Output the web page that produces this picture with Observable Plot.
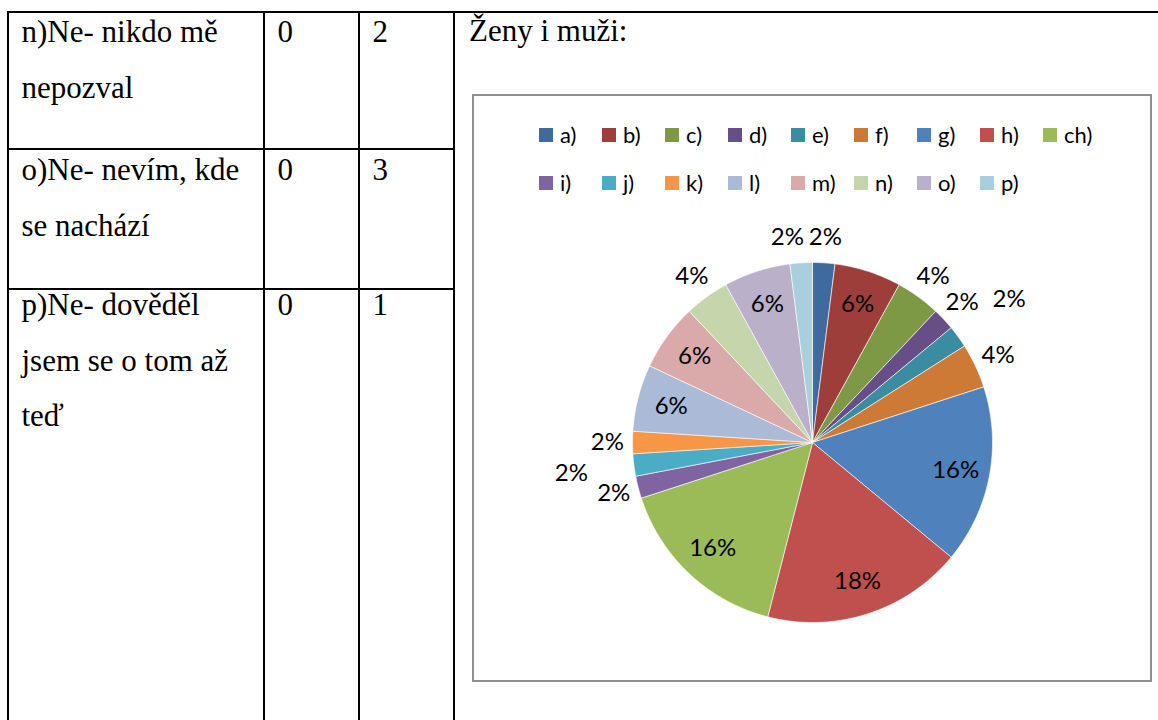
<!DOCTYPE html>
<html>
<head>
<meta charset="utf-8">
<script src="https://cdn.jsdelivr.net/npm/d3@7"></script>
<script src="https://cdn.jsdelivr.net/npm/@observablehq/plot@0.6"></script>
<style>
html, body { margin: 0; padding: 0; background: #fff; }
body { width: 1158px; height: 720px; position: relative; overflow: hidden; }
.ln { position: absolute; background: #000; }
.tx { position: absolute; font-family: "Liberation Serif", "Times New Roman", serif; font-size: 31px; line-height: 1; white-space: nowrap; color: #000; }
#frame { position: absolute; left: 472px; top: 93.5px; width: 676px; height: 584px; border: 2px solid #8f8f8f; }
#pie { position: absolute; left: 542px; top: 216.5px; }
.lg-swatches { position: absolute; left: 539px; top: 110.5px; width: 567px; margin: 0 !important; font-family: Lato, "Open Sans", sans-serif !important; font-size: 22px !important; color: #000; }
.lg-swatch { width: 63px; height: 48px; margin-right: 0 !important; align-items: center; }
.lg-swatch > svg { margin-right: 7px !important; }
</style>
</head>
<body>
<script>
// ---- data ----
const keys = ["a)", "b)", "c)", "d)", "e)", "f)", "g)", "h)", "ch)", "i)", "j)", "k)", "l)", "m)", "n)", "o)", "p)"];
const shares = [2, 6, 4, 2, 2, 4, 16, 18, 16, 2, 2, 2, 6, 6, 4, 6, 2];
const colors = ["#3f6a9d", "#9e3e3b", "#7e9945", "#674e86", "#3a8ca1", "#cc7a36",
                "#4f81bd", "#c0504d", "#9bbb59", "#8064a2", "#4bacc6", "#f79646",
                "#aabad7", "#d9aaa9", "#c6d6ac", "#bab0c9", "#a9cfdd"];
const rowTexts = [["n)Ne- nikdo mě", "nepozval"], ["o)Ne- nevím, kde", "se nachází"], ["p)Ne- dověděl", "jsem se o tom až", "teď"]];
const col2 = ["0", "0", "0"];
const col3 = ["2", "3", "1"];
const chartTitle = "Ženy i muži:";

// ---- table (document layout) ----
function line(l, t, w, h) {
  const d = document.createElement("div");
  d.className = "ln";
  Object.assign(d.style, {left: l + "px", top: t + "px", width: w + "px", height: h + "px"});
  document.body.appendChild(d);
}
const FS = 31, ASC = 0.8375 * FS;
function text(str, x, baseline) {
  const d = document.createElement("div");
  d.className = "tx";
  d.textContent = str;
  d.style.left = x + "px";
  d.style.top = (baseline - ASC) + "px";
  document.body.appendChild(d);
}
line(7, 11, 1151, 2);
[7, 262.5, 358, 453].forEach(x => line(x, 11, 2, 720));
[148, 287.5].forEach(y => line(7, y, 448, 2));
const rowBase = [42, 180, 315];
rowTexts.forEach((lines, r) => {
  lines.forEach((s, k) => text(s, 21.5, rowBase[r] + k * 55.5));
  text(col2[r], 277.5, rowBase[r]);
  text(col3[r], 372.5, rowBase[r]);
});
text(chartTitle, 469, 41);

const frame = document.createElement("div");
frame.id = "frame";
document.body.appendChild(frame);

// ---- pie geometry from data ----
const pie = d3.pie().sort(null).value(d => d)(shares);
const R = 180;
const slicePts = [];
pie.forEach((p, i) => {
  const n = Math.max(2, Math.ceil((p.endAngle - p.startAngle) / (Math.PI / 180)));
  slicePts.push({key: keys[i], x: 0, y: 0});
  for (let j = 0; j <= n; j++) {
    const a = p.startAngle + (p.endAngle - p.startAngle) * j / n;
    slicePts.push({key: keys[i], x: Math.sin(a), y: Math.cos(a)});
  }
  slicePts.push({key: keys[i], x: 0, y: 0});
});

// labels: inside for big slices, outside for small ones, moved when colliding
const BW = 27, BH = 27, GAPX = 38;
const labels = [];
const placedOut = [];
pie.forEach((p, i) => {
  const a = (p.startAngle + p.endAngle) / 2;
  const inside = shares[i] >= 5;
  let r = inside ? 0.81 : 1.14;
  let px = Math.sin(a) * r * R, py = -Math.cos(a) * r * R;
  if (!inside) {
    for (const q of placedOut) {
      if (Math.abs(px - q.px) < BW && Math.abs(py - q.py) < BH) {
        if (Math.abs(Math.cos(a)) > 0.9) {
          px = px < q.px ? q.px - GAPX : q.px + GAPX;
        } else {
          r = 1.35;
          px = Math.sin(a) * r * R; py = -Math.cos(a) * r * R;
        }
      }
    }
    placedOut.push({px, py});
  }
  labels.push({x: px / R, y: -py / R, text: shares[i] + "%"});
});

const plot = Plot.plot({
  width: 540,
  height: 450,
  margin: 0,
  x: {domain: [-1.5, 1.5], axis: null},
  y: {domain: [-1.25, 1.25], axis: null},
  color: {domain: keys, range: colors},
  style: {background: "transparent", overflow: "visible"},
  marks: [
    Plot.line(slicePts, {x: "x", y: "y", z: "key", fill: "key", stroke: "#ffffff", strokeWidth: 0.6, curve: "linear"}),
    Plot.text(labels, {x: "x", y: "y", text: "text", fontSize: 24, fontFamily: "Lato, 'Open Sans', sans-serif", fill: "#000"})
  ]
});
plot.id = "pie";
document.body.appendChild(plot);

const leg = plot.legend("color", {swatchSize: 14, className: "lg"});
document.body.appendChild(leg);
</script>
</body>
</html>
